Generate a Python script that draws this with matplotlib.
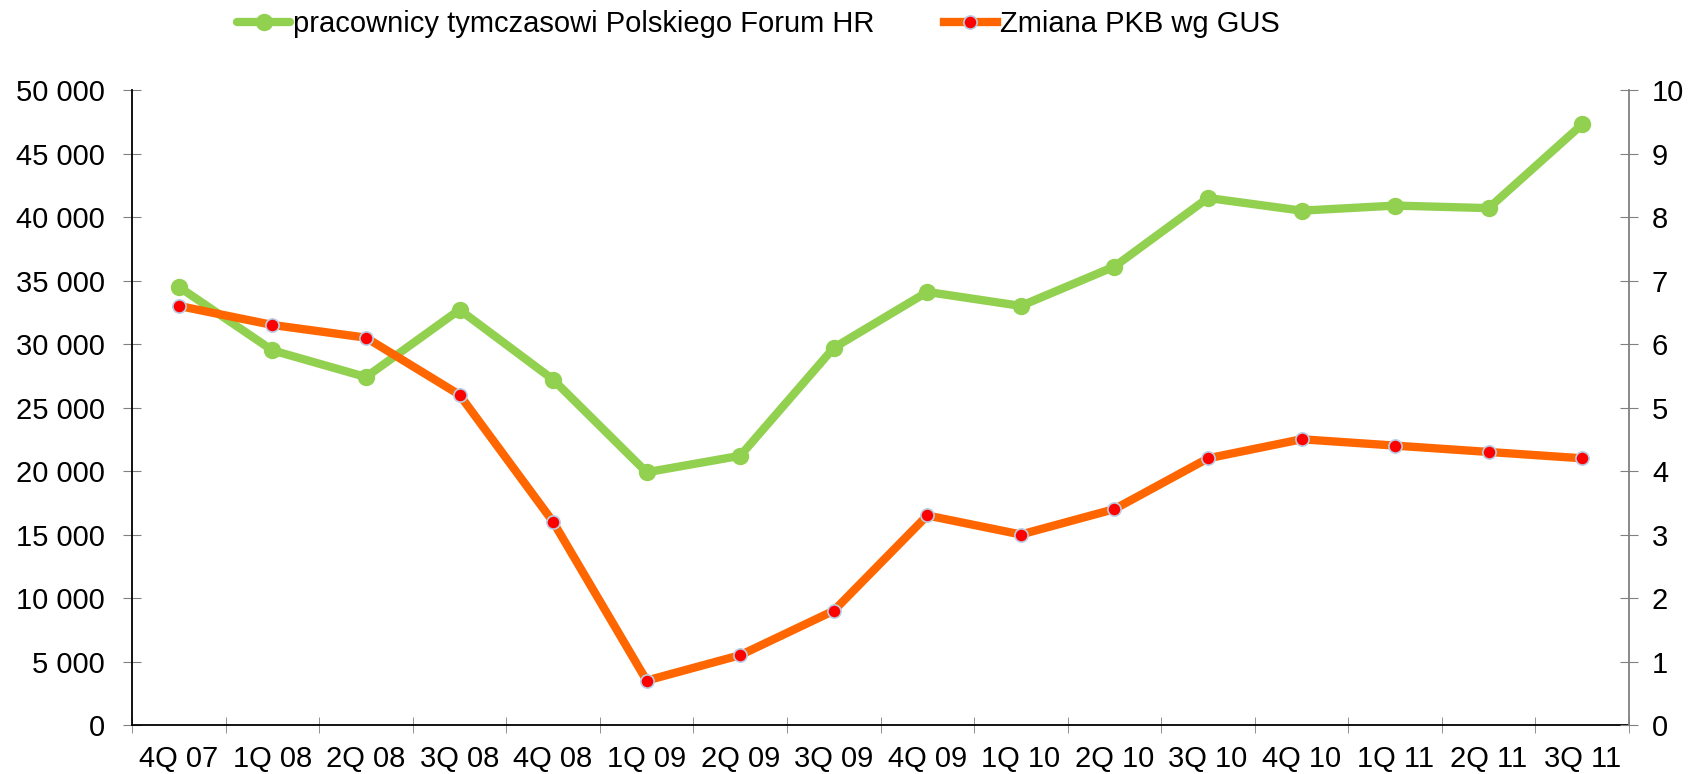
import matplotlib.pyplot as plt
import numpy as np
from matplotlib.ticker import FuncFormatter, MultipleLocator

plt.rcParams['font.family'] = ['Liberation Sans', 'DejaVu Sans']

kwartaly = ['4Q 07', '1Q 08', '2Q 08', '3Q 08', '4Q 08', '1Q 09', '2Q 09', '3Q 09',
            '4Q 09', '1Q 10', '2Q 10', '3Q 10', '4Q 10', '1Q 11', '2Q 11', '3Q 11']
pracownicy = [34500, 29500, 27400, 32700, 27200, 19900, 21200, 29700,
              34100, 33000, 36100, 41500, 40500, 40900, 40700, 47300]
pkb = [6.6, 6.3, 6.1, 5.2, 3.2, 0.7, 1.1, 1.8,
       3.3, 3.0, 3.4, 4.2, 4.5, 4.4, 4.3, 4.2]

ZIELONY = '#92D050'
POMARANCZ = '#FF6600'
FS = 21

fig = plt.figure(figsize=(16.89, 7.74), dpi=100)
ax = fig.add_axes([0.0782, 0.0633, 0.8863, 0.8204])
ax2 = ax.twinx()

x = np.arange(len(kwartaly))
l1, = ax.plot(x, pracownicy, color=ZIELONY, lw=6, marker='o', ms=11.5,
              mfc=ZIELONY, mec=ZIELONY, solid_capstyle='round')
l2, = ax2.plot(x, pkb, color=POMARANCZ, lw=6, marker='o', ms=9.5,
               mfc='#FF0000', mec='#B9CDE5', mew=1.2)

ax.set_xlim(-0.5, len(kwartaly) - 0.5)
ax.set_ylim(0, 50000)
ax2.set_ylim(0, 10)

# etykiety w srodku kategorii, kreski na granicach
ax.set_xticks(x)
ax.set_xticklabels(kwartaly)
ax.set_xticks(np.arange(-0.5, len(kwartaly)), minor=True)
ax.tick_params(axis='x', which='major', length=0, pad=14.5, labelsize=FS)
ax.tick_params(axis='x', which='minor', direction='inout', length=12, color='#808080')

ax.yaxis.set_major_locator(MultipleLocator(5000))
ax.yaxis.set_major_formatter(FuncFormatter(lambda v, p: f'{int(v):,}'.replace(',', ' ')))
ax.tick_params(axis='y', direction='inout', length=13, color='#808080', labelsize=FS, pad=13)
ax2.yaxis.set_major_locator(MultipleLocator(1))
ax2.tick_params(axis='y', direction='inout', length=13, color='#808080', labelsize=FS, pad=10)

for a in (ax, ax2):
    a.spines['top'].set_visible(False)
ax.spines['left'].set_color('black')
ax.spines['bottom'].set_color('black')
ax.spines['right'].set_visible(False)
ax2.spines['left'].set_visible(False)
ax2.spines['bottom'].set_visible(False)
ax2.spines['right'].set_color('#808080')
for s in ('left', 'bottom'):
    ax.spines[s].set_linewidth(1.3)
ax2.spines['right'].set_linewidth(1.3)

fig.legend([l1, l2], ['pracownicy tymczasowi Polskiego Forum HR', 'Zmiana PKB wg GUS'],
           loc='center', bbox_to_anchor=(0.449, 0.969), ncol=2, frameon=False,
           fontsize=FS, handlelength=1.8, handletextpad=0.1, columnspacing=2.4)

fig.savefig('out.png', dpi=100)
